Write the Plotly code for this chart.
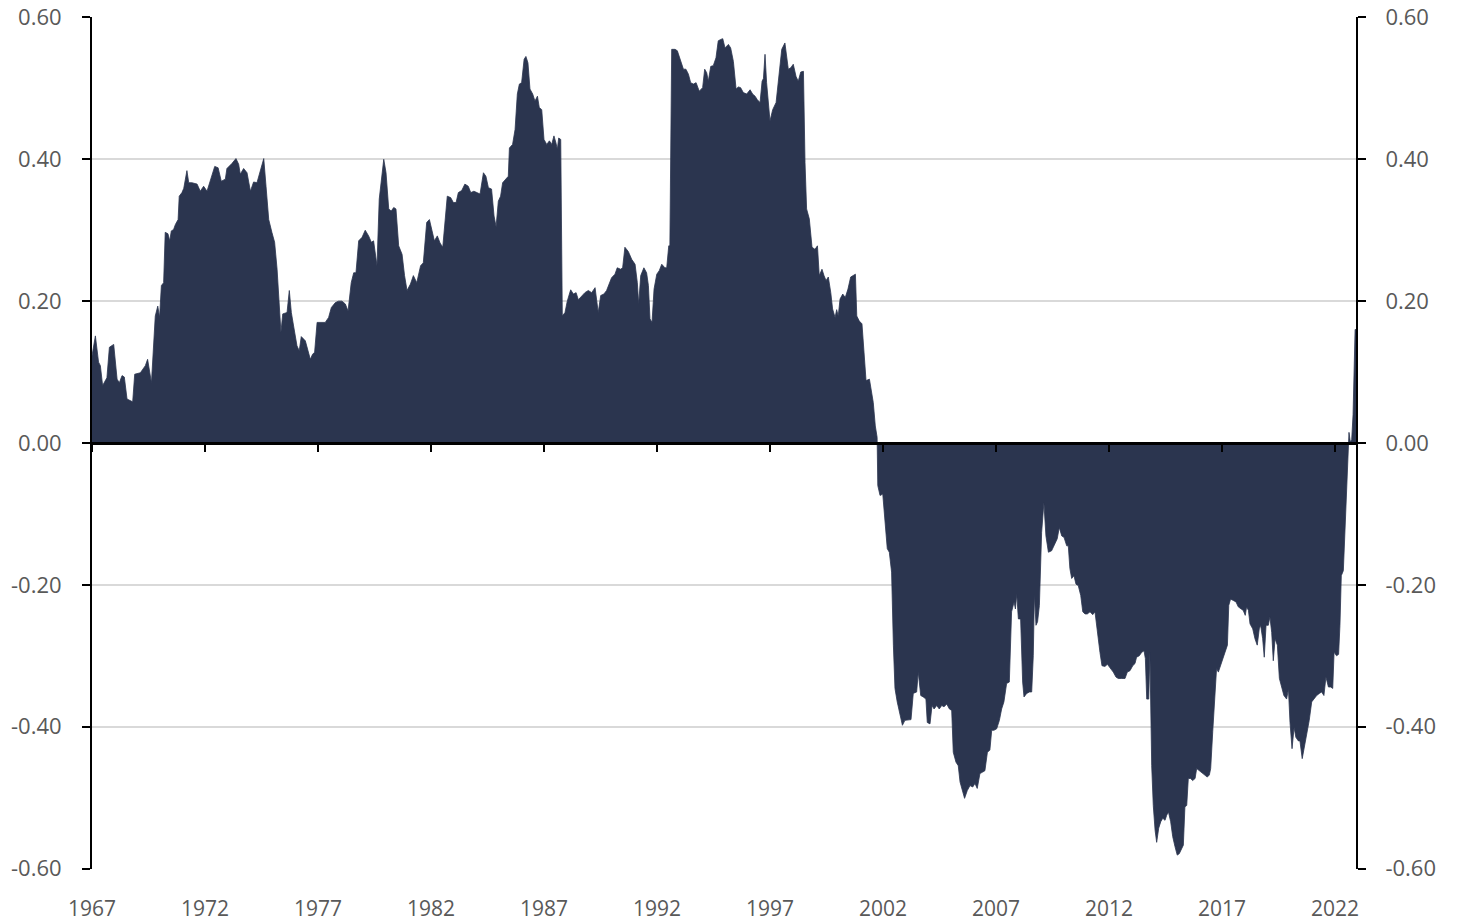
import plotly.graph_objects as go

# ---- data (decimal years, value) ----
t_1967_1981 = [1967.00, 1967.15, 1967.29, 1967.37, 1967.47, 1967.66, 1967.77, 1967.96, 1968.11, 1968.21,
               1968.33, 1968.43, 1968.55, 1968.70, 1968.80, 1968.89, 1969.14, 1969.36, 1969.46, 1969.63,
               1969.80, 1969.91, 1969.99, 1970.07, 1970.17, 1970.24, 1970.36, 1970.44, 1970.51, 1970.61,
               1970.69, 1970.81, 1970.86, 1970.98, 1971.06, 1971.20, 1971.28, 1971.42, 1971.65, 1971.79,
               1971.94, 1972.09, 1972.24, 1972.43, 1972.58, 1972.72, 1972.90, 1972.97, 1973.19, 1973.37,
               1973.49, 1973.56, 1973.71, 1973.86, 1974.01, 1974.15, 1974.30, 1974.45, 1974.60, 1974.70,
               1974.82, 1974.96, 1975.08, 1975.19, 1975.29, 1975.36, 1975.44, 1975.63, 1975.73, 1975.82,
               1975.92, 1976.07, 1976.17, 1976.26, 1976.44, 1976.56, 1976.66, 1976.76, 1976.85, 1976.96,
               1977.18, 1977.32, 1977.47, 1977.59, 1977.77, 1977.91, 1978.06, 1978.21, 1978.33, 1978.47,
               1978.58, 1978.68, 1978.80, 1978.95, 1979.09, 1979.24, 1979.36, 1979.46, 1979.61, 1979.71,
               1979.91, 1980.01, 1980.13, 1980.24, 1980.35, 1980.45, 1980.57, 1980.72, 1980.83, 1980.94,
               1981.09]
v_1967_1981 = [0.123, 0.151, 0.114, 0.109, 0.081, 0.092, 0.135, 0.139, 0.090, 0.085,
               0.095, 0.093, 0.062, 0.060, 0.058, 0.097, 0.099, 0.109, 0.118, 0.085,
               0.179, 0.193, 0.177, 0.222, 0.226, 0.297, 0.295, 0.285, 0.299, 0.301,
               0.308, 0.315, 0.348, 0.353, 0.359, 0.384, 0.367, 0.367, 0.365, 0.355,
               0.362, 0.355, 0.369, 0.390, 0.388, 0.369, 0.372, 0.387, 0.394, 0.401,
               0.393, 0.379, 0.387, 0.381, 0.355, 0.368, 0.367, 0.384, 0.401, 0.362,
               0.315, 0.297, 0.283, 0.245, 0.193, 0.156, 0.182, 0.184, 0.215, 0.184,
               0.165, 0.137, 0.130, 0.150, 0.144, 0.130, 0.118, 0.125, 0.128, 0.170,
               0.170, 0.170, 0.177, 0.191, 0.198, 0.200, 0.200, 0.196, 0.186, 0.226,
               0.240, 0.240, 0.285, 0.290, 0.300, 0.292, 0.283, 0.285, 0.250, 0.344,
               0.400, 0.381, 0.330, 0.327, 0.332, 0.330, 0.278, 0.266, 0.236, 0.215,
               0.224]

t_1981_1993 = [1981.22, 1981.37, 1981.54, 1981.66, 1981.81, 1981.93, 1982.03, 1982.15, 1982.28, 1982.40,
               1982.52, 1982.62, 1982.72, 1982.87, 1982.99, 1983.11, 1983.21, 1983.36, 1983.50, 1983.65,
               1983.76, 1983.90, 1984.05, 1984.17, 1984.32, 1984.43, 1984.54, 1984.68, 1984.79, 1984.88,
               1984.98, 1985.08, 1985.17, 1985.32, 1985.42, 1985.47, 1985.61, 1985.72, 1985.82, 1985.91,
               1986.01, 1986.12, 1986.20, 1986.29, 1986.38, 1986.50, 1986.60, 1986.71, 1986.79, 1986.90,
               1987.00, 1987.12, 1987.24, 1987.34, 1987.44, 1987.53, 1987.59, 1987.65, 1987.74, 1987.81,
               1987.93, 1988.03, 1988.18, 1988.30, 1988.42, 1988.52, 1988.67, 1988.81, 1988.96, 1989.11,
               1989.26, 1989.40, 1989.51, 1989.65, 1989.77, 1989.89, 1989.99, 1990.14, 1990.24, 1990.39,
               1990.48, 1990.58, 1990.73, 1990.88, 1991.03, 1991.13, 1991.19, 1991.28, 1991.42, 1991.54,
               1991.62, 1991.69, 1991.78, 1991.87, 1991.99, 1992.10, 1992.21, 1992.35, 1992.43, 1992.52,
               1992.57, 1992.65, 1992.80, 1992.90, 1993.02, 1993.17, 1993.28, 1993.39, 1993.49, 1993.61,
               1993.73, 1993.87]
v_1981_1993 = [0.236, 0.226, 0.250, 0.254, 0.311, 0.315, 0.301, 0.285, 0.292, 0.282,
               0.276, 0.313, 0.348, 0.346, 0.339, 0.339, 0.353, 0.356, 0.365, 0.362,
               0.353, 0.355, 0.353, 0.351, 0.381, 0.376, 0.360, 0.358, 0.320, 0.305,
               0.341, 0.348, 0.367, 0.372, 0.376, 0.416, 0.421, 0.442, 0.492, 0.506,
               0.508, 0.541, 0.545, 0.536, 0.499, 0.492, 0.482, 0.489, 0.473, 0.470,
               0.428, 0.421, 0.426, 0.421, 0.433, 0.423, 0.414, 0.430, 0.428, 0.179,
               0.184, 0.200, 0.216, 0.210, 0.212, 0.202, 0.208, 0.212, 0.215, 0.212,
               0.219, 0.184, 0.208, 0.210, 0.215, 0.226, 0.233, 0.238, 0.247, 0.245,
               0.247, 0.276, 0.270, 0.259, 0.252, 0.226, 0.196, 0.236, 0.247, 0.240,
               0.222, 0.175, 0.170, 0.217, 0.238, 0.243, 0.252, 0.247, 0.247, 0.278,
               0.278, 0.555, 0.555, 0.553, 0.541, 0.527, 0.527, 0.520, 0.508, 0.506,
               0.508, 0.496]

t_1994_2001 = [1994.02, 1994.11, 1994.20, 1994.27, 1994.38, 1994.49, 1994.61, 1994.71, 1994.82, 1994.91,
               1995.01, 1995.16, 1995.26, 1995.38, 1995.50, 1995.60, 1995.70, 1995.82, 1995.97, 1996.12,
               1996.23, 1996.34, 1996.44, 1996.56, 1996.65, 1996.71, 1996.78, 1996.85, 1997.00, 1997.12,
               1997.27, 1997.38, 1997.52, 1997.66, 1997.81, 1997.92, 1998.03, 1998.15, 1998.25, 1998.36,
               1998.48, 1998.55, 1998.62, 1998.74, 1998.86, 1998.99, 1999.10, 1999.18, 1999.30, 1999.39,
               1999.48, 1999.58, 1999.69, 1999.77, 1999.88, 1999.95, 2000.02, 2000.10, 2000.22, 2000.33,
               2000.45, 2000.57, 2000.69, 2000.78, 2000.84, 2000.95, 2001.07, 2001.16, 2001.25, 2001.40,
               2001.50, 2001.57, 2001.66, 2001.74]
v_1994_2001 = [0.501, 0.527, 0.522, 0.510, 0.531, 0.532, 0.543, 0.567, 0.569, 0.570,
               0.557, 0.562, 0.557, 0.538, 0.499, 0.502, 0.501, 0.494, 0.492, 0.498,
               0.492, 0.489, 0.484, 0.480, 0.510, 0.514, 0.548, 0.508, 0.454, 0.470,
               0.480, 0.513, 0.555, 0.564, 0.527, 0.529, 0.534, 0.517, 0.510, 0.523,
               0.524, 0.395, 0.330, 0.316, 0.276, 0.273, 0.278, 0.236, 0.245, 0.236,
               0.229, 0.234, 0.212, 0.189, 0.177, 0.188, 0.179, 0.203, 0.210, 0.205,
               0.217, 0.234, 0.236, 0.238, 0.179, 0.172, 0.168, 0.123, 0.088, 0.090,
               0.071, 0.057, 0.024, 0.008]

t_2001_2022 = [2001.77, 2001.87, 2001.99, 2002.09, 2002.19, 2002.28, 2002.38, 2002.46, 2002.53, 2002.63,
               2002.75, 2002.86, 2002.97, 2003.12, 2003.24, 2003.34, 2003.49, 2003.56, 2003.67, 2003.78,
               2003.90, 2003.96, 2004.08, 2004.17, 2004.26, 2004.38, 2004.49, 2004.60, 2004.70, 2004.82,
               2004.94, 2005.04, 2005.11, 2005.23, 2005.33, 2005.41, 2005.53, 2005.61, 2005.73, 2005.85,
               2005.97, 2006.07, 2006.17, 2006.29, 2006.41, 2006.51, 2006.62, 2006.73, 2006.81, 2006.91,
               2007.03, 2007.15, 2007.25, 2007.35, 2007.47, 2007.59, 2007.69, 2007.80, 2007.86, 2007.92,
               2007.99, 2008.09, 2008.18, 2008.24, 2008.36, 2008.48, 2008.58, 2008.65, 2008.70, 2008.77,
               2008.84, 2008.92, 2009.02, 2009.12, 2009.21, 2009.32, 2009.46, 2009.61, 2009.71, 2009.80,
               2009.91, 2010.01, 2010.13, 2010.20, 2010.27, 2010.35, 2010.45, 2010.54, 2010.64, 2010.75,
               2010.84, 2010.94, 2011.04, 2011.16, 2011.28, 2011.38, 2011.45, 2011.53, 2011.60, 2011.69,
               2011.82, 2011.93, 2012.04, 2012.19, 2012.31, 2012.41, 2012.56, 2012.71, 2012.81, 2012.93,
               2013.05, 2013.15, 2013.22, 2013.34, 2013.45, 2013.55, 2013.61, 2013.67, 2013.76, 2013.81,
               2013.89, 2013.96, 2014.04, 2014.11, 2014.20, 2014.29, 2014.38, 2014.48, 2014.55, 2014.63,
               2014.73, 2014.82, 2014.92, 2015.02, 2015.11, 2015.22, 2015.29, 2015.36, 2015.44, 2015.51,
               2015.61, 2015.70, 2015.81, 2015.88, 2016.00, 2016.10, 2016.25, 2016.35, 2016.44, 2016.50,
               2016.59, 2016.69, 2016.76, 2016.84, 2016.91, 2017.03, 2017.13, 2017.24, 2017.30, 2017.38,
               2017.50, 2017.62, 2017.72, 2017.83, 2017.94, 2018.03, 2018.09, 2018.17, 2018.24, 2018.36,
               2018.46, 2018.56, 2018.65, 2018.71, 2018.80, 2018.87, 2018.95, 2019.05, 2019.12, 2019.20,
               2019.27, 2019.35, 2019.45, 2019.54, 2019.64, 2019.74, 2019.86, 2019.94, 2020.01, 2020.10,
               2020.19, 2020.27, 2020.38, 2020.45, 2020.55, 2020.63, 2020.75, 2020.86, 2020.97, 2021.07,
               2021.19, 2021.31, 2021.41, 2021.51, 2021.60, 2021.71, 2021.81, 2021.90, 2021.96, 2022.07,
               2022.16, 2022.22, 2022.28, 2022.37, 2022.44, 2022.52, 2022.58]
v_2001_2022 = [-0.060, -0.074, -0.072, -0.112, -0.149, -0.154, -0.182, -0.285, -0.346, -0.365,
               -0.384, -0.398, -0.391, -0.391, -0.390, -0.353, -0.351, -0.323, -0.356, -0.358,
               -0.361, -0.394, -0.396, -0.370, -0.375, -0.370, -0.375, -0.370, -0.372, -0.368,
               -0.375, -0.377, -0.436, -0.450, -0.455, -0.478, -0.494, -0.501, -0.490, -0.483,
               -0.485, -0.480, -0.487, -0.466, -0.464, -0.462, -0.436, -0.433, -0.405, -0.405,
               -0.403, -0.391, -0.375, -0.365, -0.339, -0.337, -0.238, -0.224, -0.234, -0.213,
               -0.248, -0.248, -0.337, -0.358, -0.353, -0.351, -0.351, -0.300, -0.213, -0.257,
               -0.252, -0.229, -0.126, -0.084, -0.131, -0.154, -0.152, -0.142, -0.135, -0.119,
               -0.131, -0.133, -0.145, -0.145, -0.177, -0.191, -0.187, -0.199, -0.201, -0.215,
               -0.238, -0.241, -0.241, -0.238, -0.242, -0.238, -0.257, -0.281, -0.295, -0.314,
               -0.315, -0.312, -0.316, -0.323, -0.330, -0.332, -0.332, -0.332, -0.323, -0.321,
               -0.314, -0.311, -0.302, -0.300, -0.295, -0.293, -0.304, -0.361, -0.361, -0.295,
               -0.455, -0.511, -0.546, -0.563, -0.543, -0.534, -0.529, -0.532, -0.525, -0.520,
               -0.534, -0.555, -0.569, -0.581, -0.579, -0.572, -0.567, -0.513, -0.511, -0.473,
               -0.473, -0.476, -0.473, -0.459, -0.462, -0.464, -0.468, -0.471, -0.468, -0.459,
               -0.407, -0.361, -0.318, -0.323, -0.316, -0.304, -0.295, -0.285, -0.229, -0.220,
               -0.222, -0.224, -0.231, -0.234, -0.236, -0.243, -0.231, -0.236, -0.255, -0.262,
               -0.276, -0.285, -0.262, -0.257, -0.276, -0.302, -0.257, -0.257, -0.245, -0.267,
               -0.307, -0.276, -0.285, -0.332, -0.344, -0.356, -0.361, -0.347, -0.394, -0.431,
               -0.401, -0.415, -0.420, -0.420, -0.445, -0.431, -0.407, -0.391, -0.365, -0.361,
               -0.356, -0.353, -0.351, -0.356, -0.330, -0.344, -0.344, -0.346, -0.295, -0.300,
               -0.298, -0.257, -0.187, -0.180, -0.123, -0.074, -0.008]

t_2022_end = [2022.62, 2022.68, 2022.74, 2022.80, 2022.84, 2022.89, 2022.93]
v_2022_end = [0.015, 0.001, 0.005, 0.040, 0.100, 0.160, 0.160]

x_ticks = [1967, 1972, 1977, 1982, 1987, 1992, 1997, 2002, 2007, 2012, 2017, 2022]
x_ticktext = [str(y) for y in x_ticks]
y_ticks = [-0.6, -0.4, -0.2, 0.0, 0.2, 0.4, 0.6]
y_ticktext = ["-0.60", "-0.40", "-0.20", "0.00", "0.20", "0.40", "0.60"]

years = t_1967_1981 + t_1981_1993 + t_1994_2001 + t_2001_2022 + t_2022_end
values = v_1967_1981 + v_1981_1993 + v_1994_2001 + v_2001_2022 + v_2022_end

NAVY = "#2b354f"
FONT = dict(family="Open Sans, Noto Sans, sans-serif", size=22, color="#595959")
XFONT = dict(family="Open Sans, Noto Sans, sans-serif", size=21, color="#595959")
XR = [1967, 2022.93]
YR = [-0.6006, 0.6006]

fig = go.Figure()
fig.add_trace(go.Scatter(x=years, y=values, mode="lines", fill="tozeroy",
                         line=dict(color=NAVY, width=0.8), fillcolor=NAVY,
                         showlegend=False, hoverinfo="x+y"))
# helper trace to attach secondary axes (zero-line ticks, right y axis)
fig.add_trace(go.Scatter(x=[XR[0]], y=[0], xaxis="x2", yaxis="y2", mode="markers",
                         marker=dict(opacity=0), showlegend=False, hoverinfo="skip"))

fig.update_layout(
    template="none",
    width=1457, height=922,
    margin=dict(l=92, r=101, t=17, b=53, autoexpand=False),
    paper_bgcolor="white", plot_bgcolor="white",
    font=FONT,
    xaxis=dict(range=XR, tickmode="array", tickvals=x_ticks, ticktext=x_ticktext,
               showgrid=False, zeroline=False, showline=False, ticks="",
               ticklabelstandoff=25, tickfont=XFONT, automargin=False,
               ticklabeloverflow="allow"),
    xaxis2=dict(range=XR, overlaying="x", anchor="free", position=0.5,
                tickmode="array", tickvals=x_ticks, showticklabels=False,
                ticks="outside", ticklen=7, tickwidth=2, tickcolor="black",
                showline=True, linecolor="black", linewidth=2.5,
                showgrid=False, zeroline=False, layer="above traces", automargin=False),
    yaxis=dict(range=YR, tickmode="array", tickvals=y_ticks, ticktext=y_ticktext,
               showgrid=True, gridcolor="#d9d9d9", gridwidth=1.5, zeroline=False,
               showline=True, linecolor="black", linewidth=2,
               ticks="outside", ticklen=8, tickwidth=2, tickcolor="black",
               ticklabelstandoff=16, tickfont=FONT, layer="above traces", automargin=False,
               ticklabeloverflow="allow"),
    yaxis2=dict(range=YR, overlaying="y", side="right", anchor="x",
                tickmode="array", tickvals=y_ticks, ticktext=y_ticktext,
                showgrid=False, zeroline=False,
                showline=True, linecolor="black", linewidth=2,
                ticks="outside", ticklen=8, tickwidth=2, tickcolor="black",
                ticklabelstandoff=15, tickfont=FONT, layer="above traces", automargin=False,
                ticklabeloverflow="allow"),
)

# remove the default page margin so the figure sits at the window's top-left corner
fig.write_html("out.html", config={"displayModeBar": False},
               post_script="document.body.style.margin='0';")
